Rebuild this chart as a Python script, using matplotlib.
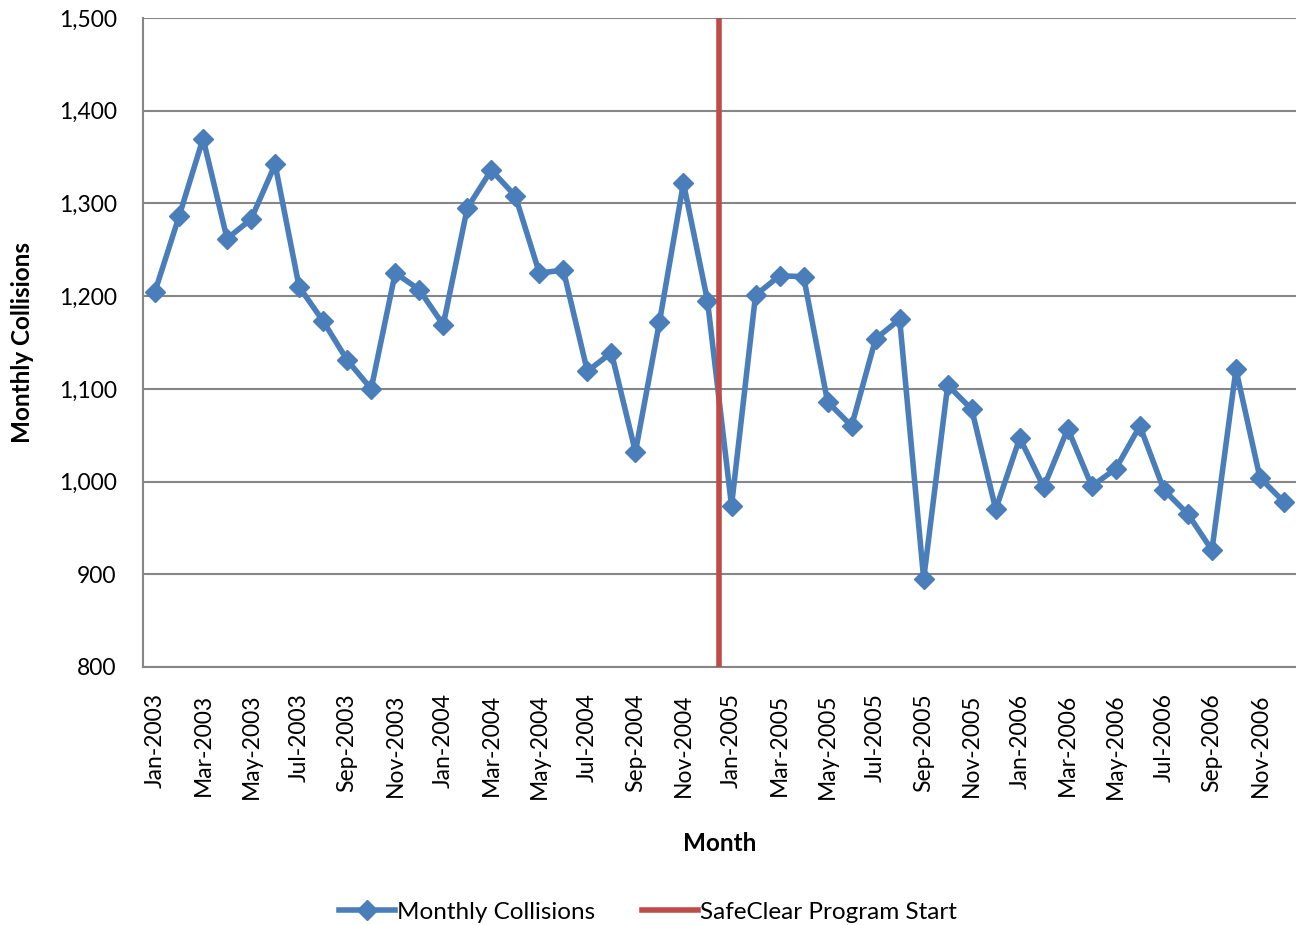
import matplotlib
matplotlib.use("Agg")
import matplotlib.pyplot as plt
from matplotlib.ticker import FuncFormatter
from matplotlib.lines import Line2D

plt.rcParams['font.family'] = ['Lato', 'DejaVu Sans']

months = [f"{m}-{y}" for y in (2003, 2004, 2005, 2006)
          for m in ("Jan", "Feb", "Mar", "Apr", "May", "Jun",
                    "Jul", "Aug", "Sep", "Oct", "Nov", "Dec")]

collisions = [
    1205, 1286, 1370, 1262, 1283, 1342, 1210, 1173, 1131, 1100, 1225, 1207,
    1169, 1295, 1336, 1308, 1225, 1228, 1119, 1139, 1032, 1172, 1322, 1195,
    974, 1201, 1222, 1221, 1086, 1060, 1154, 1175, 895, 1104, 1078, 970,
    1047, 994, 1057, 995, 1014, 1060, 991, 965, 926, 1121, 1004, 978,
]

program_start = "Jan-2005"
y_ticks = [800, 900, 1000, 1100, 1200, 1300, 1400, 1500]

blue = "#4a7ebb"
red = "#be4b48"
grid_grey = "#868686"

fig = plt.figure(figsize=(12.96, 9.25), dpi=100)
ax = fig.add_axes([143 / 1296, 1 - 667 / 925, 1 - 143 / 1296, (667 - 18) / 925])

x = list(range(len(months)))
ax.plot(x, collisions, color=blue, linewidth=4, marker="D", markersize=10,
        markeredgecolor=blue, markerfacecolor=blue, zorder=3)

start_pos = months.index(program_start) - 0.5
ax.axvline(start_pos, color=red, linewidth=4, zorder=4)

ax.set_xlim(-0.5, len(months) - 0.5)
ax.set_ylim(800, 1500)
ax.set_yticks(y_ticks)
ax.yaxis.set_major_formatter(FuncFormatter(lambda v, p: f"{int(v):,}"))
ax.set_xticks(x[::2])
ax.set_xticklabels(months[::2], rotation=90, va="top", ha="center")

ax.grid(axis="y", color=grid_grey, linewidth=1.5, zorder=0)
ax.set_axisbelow(True)
for side in ("top", "right"):
    ax.spines[side].set_visible(False)
for side in ("left", "bottom"):
    ax.spines[side].set_color(grid_grey)
    ax.spines[side].set_linewidth(1.5)
ax.tick_params(axis="both", length=0, labelsize=16.5, colors="black")
ax.tick_params(axis="x", pad=19)
ax.tick_params(axis="y", pad=19)

ax.set_xlabel("Month", fontsize=17.5, fontweight="bold", labelpad=24)
ax.set_ylabel("Monthly Collisions", fontsize=17.5, fontweight="bold", labelpad=18)

handles = [
    Line2D([], [], color=blue, linewidth=4, marker="D", markersize=10),
    Line2D([], [], color=red, linewidth=4),
]
fig.legend(handles, ["Monthly Collisions", "SafeClear Program Start"],
           loc="center", bbox_to_anchor=(0.5, 1 - 912 / 925), ncol=2,
           frameon=False, fontsize=17.5, handlelength=2.3, handletextpad=0.1,
           columnspacing=1.9)

fig.savefig("out.png", dpi=100)
